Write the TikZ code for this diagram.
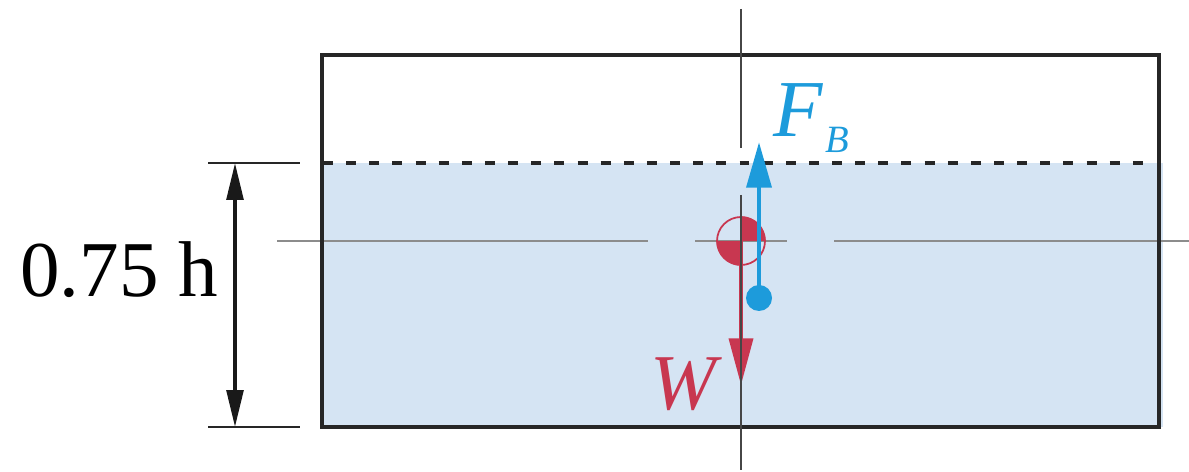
\documentclass[tikz,border=0pt]{standalone}
\usepackage{fontspec}
\setmainfont{Liberation Serif}
\usetikzlibrary{arrows.meta}
\definecolor{cred}{RGB}{200,55,80}
\definecolor{cblue}{RGB}{29,155,219}
\definecolor{water}{RGB}{213,228,243}
\definecolor{axisgray}{RGB}{140,140,140}
\definecolor{axisdark}{RGB}{70,70,70}
\begin{document}
\begin{tikzpicture}[x=0.02cm,y=-0.02cm,
  boxline/.style={draw=black!85,line width=2.8pt},
  waterline/.style={draw=black!85,line width=2.3pt,dash pattern=on 5.67pt off 7.5pt},
  centerline/.style={draw=axisgray,line width=0.85pt},
  vaxis/.style={draw=axisdark,line width=0.8pt},
  extline/.style={draw=black!85,line width=0.85pt},
  dimarrow/.style={draw=black!90,line width=2pt,{Triangle[length=21pt,width=9.5pt]}-{Triangle[length=21pt,width=9.5pt]}},
  fbarrow/.style={draw=cblue,line width=2.8pt,-{Triangle[length=26pt,width=14pt]}},
  warrow/.style={draw=cred,line width=2.3pt,-{Triangle[length=26.6pt,width=13.6pt]}},
  bigtxt/.style={font=\fontsize{45}{50}\selectfont,inner sep=0pt},
  subtxt/.style={font=\fontsize{22}{26}\selectfont\itshape,inner sep=0pt}]
\useasboundingbox (0,0) rectangle (1189,472);
% water
\fill[water] (322,163) rectangle (1163,427);
% horizontal centre line
\draw[centerline] (277,241) -- (648,241);
\draw[centerline] (695,241) -- (787,241);
\draw[centerline] (834,241) -- (1189,241);
% tank
\draw[boxline] (322,55) rectangle (1159,427);
% water surface
\draw[waterline] (323,163) -- (1150,163);
% extension lines
\coordinate (e1a) at (208,163); \coordinate (e1b) at (300,163);
\coordinate (e2a) at (208,427); \coordinate (e2b) at (300,427);
\draw[extline] (e1a) -- (e1b);
\draw[extline] (e2a) -- (e2b);
% dimension
\coordinate (dtop) at (235,163); \coordinate (dbot) at (235,427);
\draw[dimarrow] (dtop) -- (dbot);
\node[bigtxt,anchor=base west] (dimlabel) at (20,297) {0.75 h};
% centre of gravity symbol
\coordinate (G) at (741,241);
\begin{scope}
  \clip (G) circle (24.5);
  \fill[cred] (741,241) rectangle (767,215);
  \fill[cred] (741,241) rectangle (715,267);
\end{scope}
\draw[cred,line width=1pt] (G) circle (24);
% weight
\coordinate (Wtip) at (741,385);
\draw[warrow] (G) -- (Wtip);
\node[bigtxt,font=\fontsize{45}{50}\selectfont\itshape,text=cred,anchor=base east] (Wlabel) at (717,410) {W};
% vertical axis
\coordinate (va1) at (741,9); \coordinate (va2) at (741,148);
\coordinate (va3) at (741,195); \coordinate (va4) at (741,470);
\draw[vaxis] (va1) -- (va2);
\draw[vaxis] (va3) -- (va4);
% buoyancy
\coordinate (B) at (759,298);
\coordinate (FBtip) at (759,142);
\draw[fbarrow] (B) -- (FBtip);
\fill[cblue] (B) circle (13);
\node[bigtxt,font=\fontsize{46}{50}\selectfont\itshape,text=cblue,anchor=base west] (Flabel) at (773,137) {F};
\node[subtxt,text=cblue,anchor=base west] (Blabel) at (825,153) {B};
\end{tikzpicture}
\end{document}
